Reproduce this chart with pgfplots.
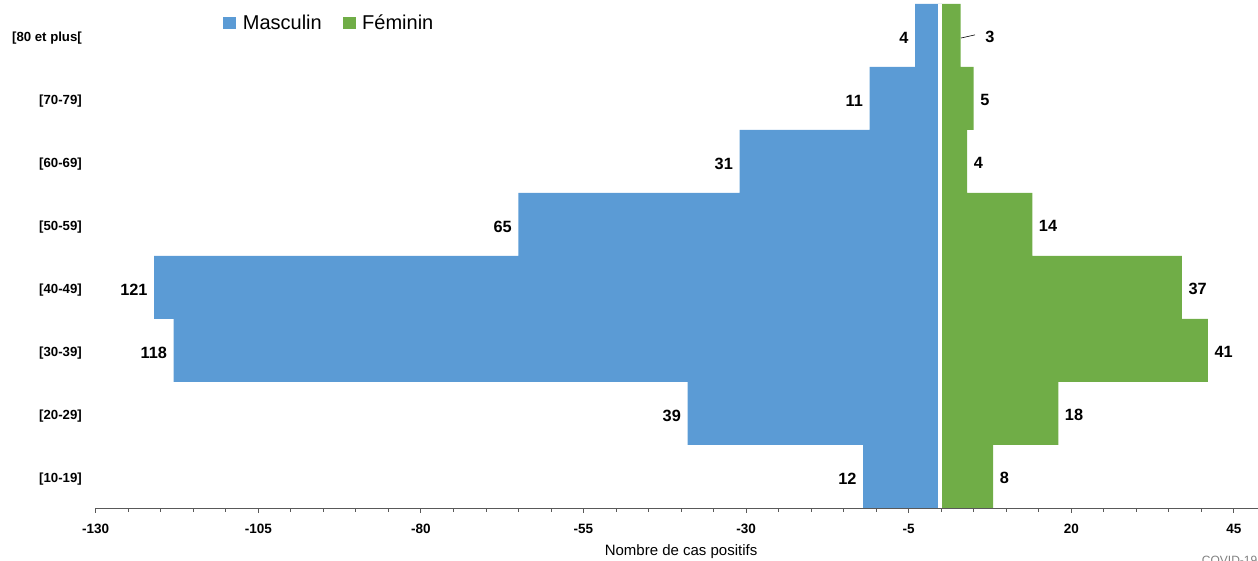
\documentclass[border=0pt]{standalone}
\usepackage{pgfplots}
\pgfplotsset{compat=1.18}
\usepackage{fontspec}
\setmainfont{Liberation Sans}
\definecolor{masc}{HTML}{5B9BD5}
\definecolor{fem}{HTML}{70AD47}
\definecolor{axisgray}{HTML}{595959}

\begin{document}
\begin{tikzpicture}
\begin{axis}[
  at={(95.7pt,53pt)}, anchor=south west,
  scale only axis, width=1170.7pt, height=504pt,
  xmin=-130, xmax=50, ymin=-0.5, ymax=7.5,
  axis on top,
  axis x line*=bottom, axis y line*=left,
  y axis line style={draw=none},
  x axis line style={axisgray, line width=0.8pt, -},
  xtick={-130,-105,...,45},
  minor x tick num=4,
  tick align=outside,
  major tick length=5pt, minor tick length=4pt,
  x tick style={axisgray, line width=0.8pt},
  ytick={0,...,7},
  yticklabels={{[10-19]},{[20-29]},{[30-39]},{[40-49]},{[50-59]},{[60-69]},{[70-79]},{[80 et plus[}},
  y tick style={draw=none},
  /pgf/number format/assume math mode=true,
  xticklabel style={font=\fontsize{13.5}{16}\selectfont\bfseries, inner sep=0pt, anchor=north, yshift=-10.8pt},
  yticklabel style={font=\fontsize{13.2}{16}\selectfont\bfseries, inner sep=0pt, anchor=east, xshift=-8.7pt, yshift=-3pt},
  xlabel={Nombre de cas positifs},
  xlabel style={at={(axis description cs:0.5,0)}, anchor=base, yshift=-48pt, font=\fontsize{15}{18}\selectfont},
  xbar, bar width=1,
  point meta=explicit symbolic,
]
% Masculin (negatif)
\addplot[xbar, bar shift=0pt, fill=masc, draw=none,
  nodes near coords,
  every node near coord/.style={anchor=east, font=\fontsize{16.3}{19}\selectfont\bfseries, inner xsep=6.5pt, inner ysep=0pt, yshift=-2pt, text=black}]
  coordinates {
  (-12,0) [12] (-39,1) [39] (-118,2) [118] (-121,3) [121]
  (-65,4) [65] (-31,5) [31] (-11,6) [11] (-4,7) [4]
};
% Feminin
\addplot[xbar, bar shift=0pt, fill=fem, draw=none,
  nodes near coords,
  every node near coord/.style={anchor=west, font=\fontsize{16.3}{19}\selectfont\bfseries, inner xsep=6.5pt, inner ysep=0pt, yshift=-1pt, text=black}]
  coordinates {
  (8,0) [8] (18,1) [18] (41,2) [41] (37,3) [37]
  (14,4) [14] (4,5) [4] (5,6) [5] (3,7) [\kern18pt 3]
};
\draw[white, line width=4.4pt] (axis cs:-0.15,-0.5) -- (axis cs:-0.15,7.5);
\draw[black, line width=0.6pt] (axis cs:3.05,6.96) -- (axis cs:5.2,7.01);
\end{axis}

% legende
\fill[masc] (223pt,532pt) rectangle (236pt,544pt);
\node[anchor=base west, inner sep=0pt, font=\fontsize{20}{24}\selectfont] at (242.7pt,531pt) {Masculin};
\fill[fem] (343pt,532pt) rectangle (356pt,544pt);
\node[anchor=base west, inner sep=0pt, font=\fontsize{20}{24}\selectfont] at (362pt,531pt) {Féminin};

\node[anchor=north west, inner sep=0pt, text=gray, font=\fontsize{12}{14}\selectfont] at (1201.7pt,5pt) {COVID-19};

\pgfresetboundingbox
\path[use as bounding box] (0,0) rectangle (1258pt,561pt);
\end{tikzpicture}
\end{document}
